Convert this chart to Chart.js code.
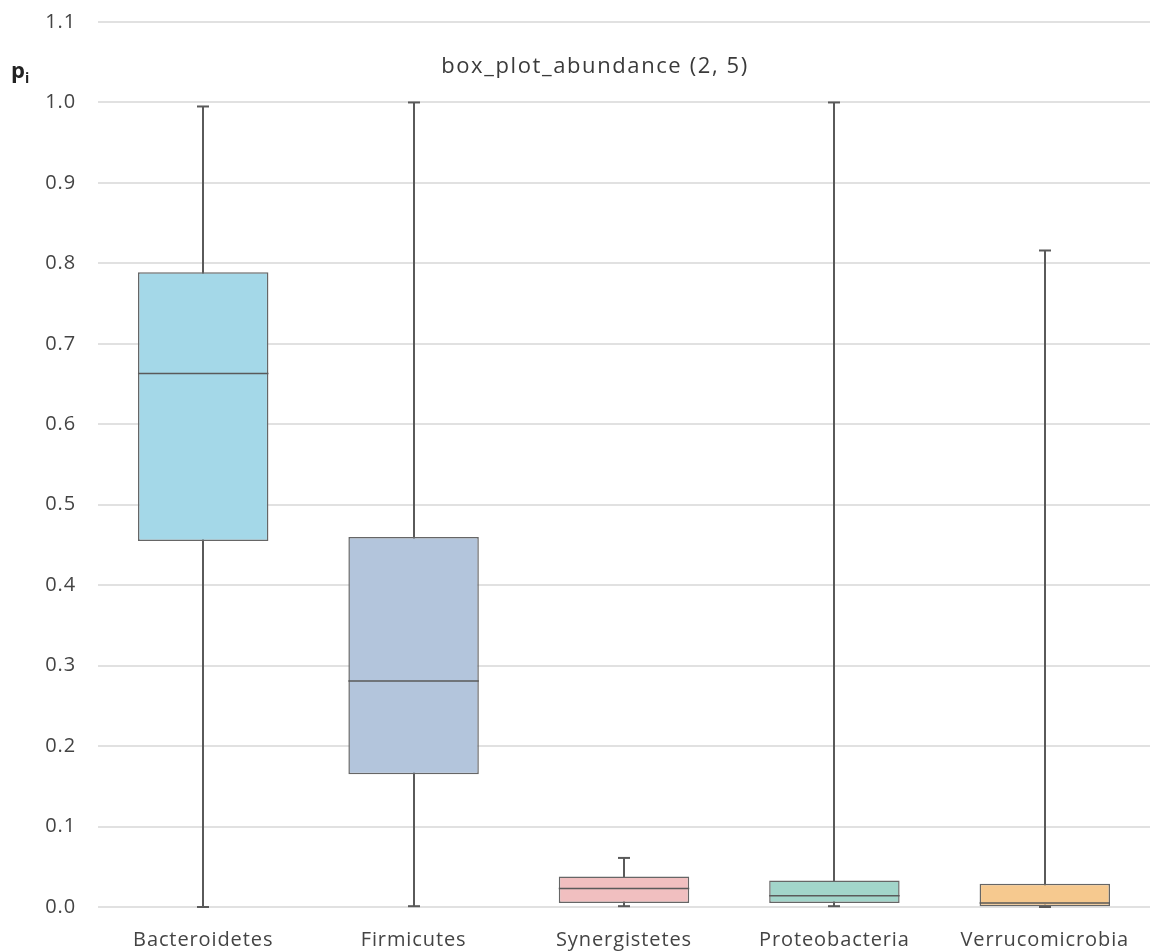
<!DOCTYPE html>
<html>
<head>
<meta charset="utf-8">
<script src="https://cdn.jsdelivr.net/npm/chart.js@4.4.1/dist/chart.umd.min.js"></script>
<style>
  html, body { margin: 0; padding: 0; background: #ffffff; }
  #wrap { width: 1150px; height: 952px; position: relative; }
</style>
</head>
<body>
<div id="wrap"><canvas id="chart" width="1150" height="952"></canvas></div>
<script>
// Phylum-level relative abundance, five-number summaries per phylum
const categories = ['Bacteroidetes', 'Firmicutes', 'Synergistetes', 'Proteobacteria', 'Verrucomicrobia'];
const whiskerMin = [0.000, 0.001, 0.001, 0.001, 0.000];
const quartile1  = [0.455, 0.165, 0.005, 0.005, 0.001];
const medians    = [0.663, 0.281, 0.023, 0.014, 0.005];
const quartile3  = [0.789, 0.460, 0.038, 0.033, 0.029];
const whiskerMax = [0.995, 1.000, 0.061, 1.000, 0.816];
const yTicks     = [0.0, 0.1, 0.2, 0.3, 0.4, 0.5, 0.6, 0.7, 0.8, 0.9, 1.0, 1.1];
const boxColors  = ['#a4d8e8', '#b3c5dc', '#f1bfc0', '#a2d5ca', '#f6c98f'];
const chartTitle = 'box_plot_abundance (2, 5)';

const FONT = "'Open Sans', 'Noto Sans', sans-serif";
const LINE = '#5a5a5a';

function setSpacing(ctx, px) {
  if ('letterSpacing' in ctx) ctx.letterSpacing = px + 'px';
}

// whiskers go under the boxes, medians and labels on top
const boxPlotParts = {
  id: 'boxPlotParts',
  beforeDraw(chart) {
    // slightly open tracking for the axis labels
    setSpacing(chart.ctx, 0.9);
  },
  beforeDatasetsDraw(chart) {
    const { ctx } = chart;
    const y = chart.scales.y;
    const meta = chart.getDatasetMeta(0);
    ctx.save();
    ctx.strokeStyle = LINE;
    ctx.lineWidth = 2;
    meta.data.forEach((bar, i) => {
      const x = Math.round(bar.x);
      ctx.beginPath();
      ctx.moveTo(x, y.getPixelForValue(whiskerMax[i]));
      ctx.lineTo(x, y.getPixelForValue(whiskerMin[i]));
      ctx.stroke();
      const capHalf = 6;
      [whiskerMax[i], whiskerMin[i]].forEach(v => {
        const py = y.getPixelForValue(v);
        ctx.beginPath();
        ctx.moveTo(x - capHalf, py);
        ctx.lineTo(x + capHalf, py);
        ctx.stroke();
      });
    });
    ctx.restore();
  },
  afterDatasetsDraw(chart) {
    const { ctx } = chart;
    const y = chart.scales.y;
    const meta = chart.getDatasetMeta(0);
    ctx.save();
    ctx.strokeStyle = LINE;
    ctx.lineWidth = 1.5;
    meta.data.forEach((bar, i) => {
      const half = bar.width / 2;
      const py = y.getPixelForValue(medians[i]);
      ctx.beginPath();
      ctx.moveTo(bar.x - half, py);
      ctx.lineTo(bar.x + half, py);
      ctx.stroke();
    });
    ctx.restore();
  },
  afterDraw(chart) {
    const { ctx } = chart;
    ctx.save();
    ctx.fillStyle = '#3a3a3a';
    ctx.font = '400 22px ' + FONT;
    ctx.textAlign = 'center';
    ctx.textBaseline = 'middle';
    setSpacing(ctx, 1.6);
    ctx.fillText(chartTitle, 595, 67);
    setSpacing(ctx, 0);
    // y-axis label: p with subscript i
    ctx.textAlign = 'left';
    ctx.textBaseline = 'alphabetic';
    ctx.fillStyle = '#222222';
    ctx.font = 'bold 22px ' + FONT;
    ctx.fillText('p', 11, 78);
    const w = ctx.measureText('p').width;
    ctx.font = 'bold 14px ' + FONT;
    ctx.fillText('i', 11 + w, 83);
    ctx.restore();
  }
};

new Chart(document.getElementById('chart'), {
  type: 'bar',
  data: {
    labels: categories,
    datasets: [{
      data: categories.map((c, i) => [quartile1[i], quartile3[i]]),
      backgroundColor: boxColors,
      borderColor: '#666666',
      borderWidth: 1.5,
      borderSkipped: false,
      barPercentage: 0.62,
      categoryPercentage: 1.0
    }]
  },
  options: {
    responsive: false,
    animation: false,
    layout: { padding: { top: 22, right: 0, bottom: 0, left: 0 } },
    plugins: {
      legend: { display: false },
      title: { display: false },
      tooltip: { enabled: false }
    },
    scales: {
      x: {
        grid: { display: false, drawTicks: false },
        border: { display: false },
        ticks: { color: '#444444', font: { family: FONT, size: 20, weight: 400 }, padding: 21 },
        afterFit(scale) { scale.height = 45; }
      },
      y: {
        min: 0,
        max: 1.1,
        afterBuildTicks(scale) { scale.ticks = yTicks.map(v => ({ value: v })); },
        grid: { color: '#e1e1e1', lineWidth: 2, drawTicks: false },
        border: { display: false },
        ticks: {
          color: '#444444',
          font: { family: FONT, size: 20, weight: 400 },
          padding: 22,
          callback: v => Number(v).toFixed(1)
        },
        afterFit(scale) {
          scale.width = 98;
          scale.paddingTop = 0;
          scale.paddingBottom = 0;
        }
      }
    }
  },
  plugins: [boxPlotParts]
});
</script>
</body>
</html>
